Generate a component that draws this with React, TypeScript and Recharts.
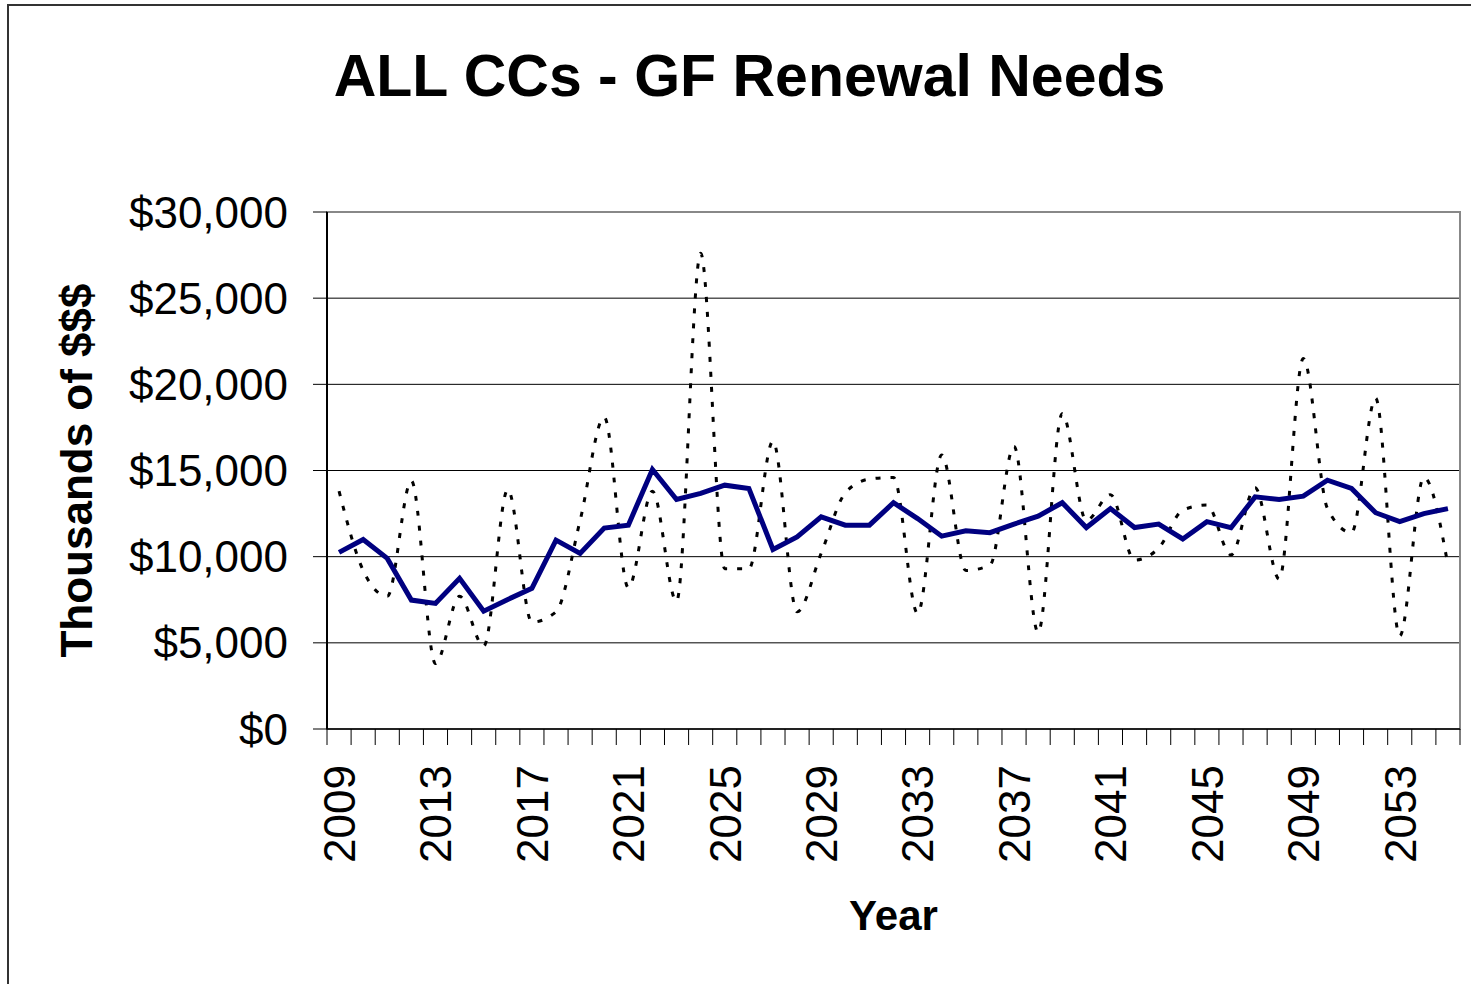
import React from "react";
import { LineChart, Line, XAxis, YAxis, CartesianGrid, ReferenceArea } from "recharts";

const years = [
  "2009", "2010", "2011", "2012", "2013", "2014", "2015", "2016", "2017", "2018",
  "2019", "2020", "2021", "2022", "2023", "2024", "2025", "2026", "2027", "2028",
  "2029", "2030", "2031", "2032", "2033", "2034", "2035", "2036", "2037", "2038",
  "2039", "2040", "2041", "2042", "2043", "2044", "2045", "2046", "2047", "2048",
  "2049", "2050", "2051", "2052", "2053", "2054", "2055",
];

// dotted series: year-by-year needs
const annualNeeds = [
  13800, 9200, 7700, 14400, 3800, 7700, 4800, 13900, 6200, 6800,
  12100, 18100, 8200, 13800, 7400, 27600, 9300, 9300, 16700, 6800,
  10200, 13700, 14500, 14600, 6700, 15900, 9200, 9500, 16400, 5600,
  18300, 12100, 13600, 9800, 10500, 12700, 13000, 10100, 14000, 8700,
  21500, 12800, 11400, 19200, 5400, 14600, 9500,
];

// solid series: averaged needs
const averageNeeds = [
  10250, 11000, 9900, 7480, 7290, 8740, 6840, 7520, 8160, 10960,
  10190, 11660, 11830, 15060, 13320, 13670, 14150, 13960, 10420, 11150,
  12310, 11830, 11830, 13130, 12210, 11190, 11500, 11390, 11890, 12350,
  13130, 11690, 12790, 11690, 11890, 11030, 12030, 11680, 13470, 13320,
  13510, 14440, 13960, 12550, 12030, 12500, 12790,
];

const yTicks = [0, 5000, 10000, 15000, 20000, 25000, 30000];
const labelEvery = 4;

const data = years.map((year, i) => ({ year, annual: annualNeeds[i], avg: averageNeeds[i] }));

const FONT = '"Liberation Sans", Arial, Helvetica, sans-serif';
const W = 1471;
const H = 984;
const Y_AXIS_W = 327;
const MARGIN = { top: 212, right: 11, bottom: 0, left: 0 };
const X_AXIS_H = 255;
const X_TICK = 16;
const X_GAP = 20;
const band = (W - Y_AXIS_W - MARGIN.right) / years.length;

function YearTick(props: any) {
  const { x, y, payload, index } = props;
  const axisY = y - X_TICK - X_GAP;
  const left = payload.coordinate - band / 2;
  return (
    <g>
      <line x1={left} x2={left} y1={axisY} y2={axisY + X_TICK} stroke="#000" strokeWidth={1} />
      {index === years.length - 1 && (
        <line x1={left + band} x2={left + band} y1={axisY} y2={axisY + X_TICK} stroke="#000" strokeWidth={1} />
      )}
      {index % labelEvery === 0 && (
        <text
          x={x}
          y={y}
          dy="0.36em"
          transform={`rotate(-90, ${x}, ${y})`}
          textAnchor="end"
          fontSize={44}
          fontFamily={FONT}
          fill="#000"
        >
          {payload.value}
        </text>
      )}
    </g>
  );
}

export default function App() {
  return (
    <div style={{ position: "absolute", left: 0, top: 0, width: W, height: H, background: "#fff", overflow: "hidden" }}>
      <div
        style={{
          position: "absolute",
          left: 7,
          top: 4,
          width: W + 20,
          height: H + 20,
          borderLeft: "2px solid #333",
          borderTop: "2px solid #333",
        }}
      />
      <div
        style={{
          position: "absolute",
          left: 0,
          top: 47,
          width: 1499,
          textAlign: "center",
          fontFamily: FONT,
          fontWeight: "bold",
          fontSize: 59,
          lineHeight: "59px",
          color: "#000",
        }}
      >
        ALL CCs - GF Renewal Needs
      </div>
      <div style={{ position: "absolute", left: 0, top: 0 }}>
        <LineChart width={W} height={H} data={data} margin={MARGIN}>
          <CartesianGrid vertical={false} stroke="#000" strokeWidth={1} />
          <ReferenceArea y1={0} y2={30000} fill="none" fillOpacity={0} stroke="#888" strokeWidth={2} ifOverflow="visible" />
          <XAxis
            dataKey="year"
            scale="band"
            interval={0}
            height={X_AXIS_H}
            tickSize={X_TICK}
            tickMargin={X_GAP}
            tickLine={false}
            tick={<YearTick />}
            axisLine={{ stroke: "#000", strokeWidth: 1.5 }}
            label={{ value: "Year", position: "insideBottom", offset: 54, fontSize: 42, fontWeight: "bold", fontFamily: FONT, fill: "#000" }}
          />
          <YAxis
            width={Y_AXIS_W}
            domain={[0, 30000]}
            ticks={yTicks}
            interval={0}
            tickSize={14}
            tickMargin={25}
            tickLine={{ stroke: "#000" }}
            axisLine={{ stroke: "#000", strokeWidth: 2 }}
            tick={{ fontSize: 44, fill: "#000", fontFamily: FONT }}
            tickFormatter={(v: number) => `$${v.toLocaleString("en-US")}`}
            label={{
              value: "Thousands of $$$",
              angle: -90,
              position: "insideLeft",
              offset: 76,
              fontSize: 44,
              fontWeight: "bold",
              fontFamily: FONT,
              fill: "#000",
              style: { textAnchor: "middle" },
            }}
          />
          <Line
            type="monotone"
            dataKey="annual"
            stroke="#000"
            strokeWidth={3}
            strokeDasharray="5 10"
            dot={false}
            activeDot={false}
            isAnimationActive={false}
          />
          <Line
            type="linear"
            dataKey="avg"
            stroke="#000080"
            strokeWidth={5}
            dot={false}
            activeDot={false}
            isAnimationActive={false}
          />
        </LineChart>
      </div>
    </div>
  );
}
